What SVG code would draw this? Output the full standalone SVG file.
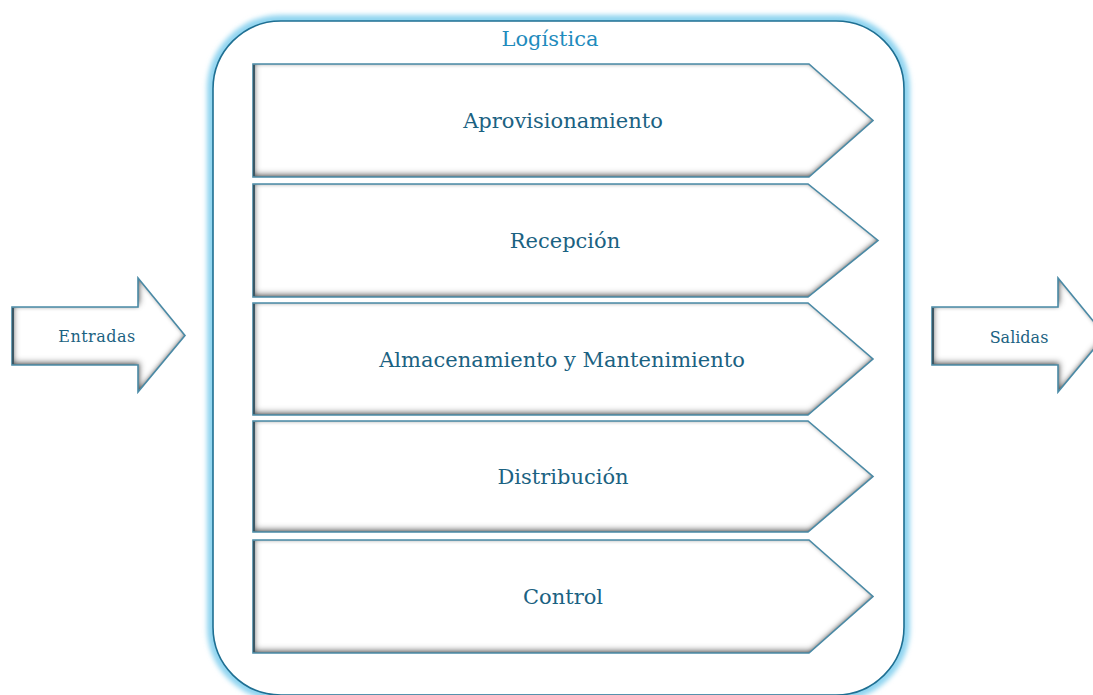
<svg xmlns="http://www.w3.org/2000/svg" width="1093" height="695" viewBox="0 0 1093 695">
  <defs>
    <style>
      .label { font-family: "DejaVu Serif", "Liberation Serif", serif; fill: #1b6282; text-anchor: middle; }
      .big { font-size: 21px; }
      .small { font-size: 16px; }
      .title { font-family: "DejaVu Serif", "Liberation Serif", serif; font-size: 21px; fill: #1f8bbd; text-anchor: middle; }
      .body { fill: #ffffff; filter: url(#inset); }
      .edge { fill: none; stroke: #4a8aa6; stroke-width: 1.6; stroke-linejoin: miter; }
      .leftedge { fill: none; stroke: #3b5866; stroke-width: 2; }
    </style>
    <!-- soft inner shading along the edges, heaviest at the bottom -->
    <filter id="inset" x="-8%" y="-15%" width="116%" height="130%">
      <feComponentTransfer in="SourceAlpha" result="inv">
        <feFuncA type="table" tableValues="1 0"/>
      </feComponentTransfer>
      <feGaussianBlur in="inv" stdDeviation="3" result="blur"/>
      <feOffset in="blur" dx="1.5" dy="-3" result="off"/>
      <feFlood flood-color="#4e4e4e" flood-opacity="1"/>
      <feComposite in2="off" operator="in" result="shade"/>
      <feComposite in="shade" in2="SourceAlpha" operator="in" result="inner"/>
      <feGaussianBlur in="inv" stdDeviation="2.2" result="blur2"/>
      <feFlood flood-color="#7a7a7a" flood-opacity="0.9"/>
      <feComposite in2="blur2" operator="in" result="rim"/>
      <feComposite in="rim" in2="SourceAlpha" operator="in" result="innerrim"/>
      <feMerge>
        <feMergeNode in="SourceGraphic"/>
        <feMergeNode in="innerrim"/>
        <feMergeNode in="inner"/>
      </feMerge>
    </filter>
    <!-- light blue halo round the container -->
    <filter id="glow" x="-5%" y="-5%" width="110%" height="110%">
      <feGaussianBlur stdDeviation="2.5"/>
    </filter>
  </defs>

  <!-- container -->
  <g id="logistica">
    <rect x="213" y="21" width="691" height="674" rx="68" ry="68" fill="none" stroke="#8fd4f0" stroke-width="12" filter="url(#glow)"/>
    <rect x="213" y="21" width="691" height="674" rx="68" ry="68" fill="#ffffff" stroke="#1f6f92" stroke-width="1.6"/>
    <text class="title" x="550" y="46">Logística</text>
  </g>

  <g id="aprovisionamiento">
    <path class="body" d="M253,64 H809 L873,120.5 L809,177 H253 Z"/>
    <path class="edge" d="M253,64 H809 L873,120.5 L809,177 H253 Z"/>
    <path class="leftedge" d="M254,65 V176"/>
    <text class="label big" x="563" y="128">Aprovisionamiento</text>
  </g>

  <g id="recepcion">
    <path class="body" d="M253,184 H808 L878,240.5 L808,297 H253 Z"/>
    <path class="edge" d="M253,184 H808 L878,240.5 L808,297 H253 Z"/>
    <path class="leftedge" d="M254,185 V296"/>
    <text class="label big" x="565" y="248">Recepción</text>
  </g>

  <g id="almacenamiento">
    <path class="body" d="M253,303 H808 L873,359 L808,415 H253 Z"/>
    <path class="edge" d="M253,303 H808 L873,359 L808,415 H253 Z"/>
    <path class="leftedge" d="M254,304 V414"/>
    <text class="label big" x="562" y="367">Almacenamiento y Mantenimiento</text>
  </g>

  <g id="distribucion">
    <path class="body" d="M253,421 H808 L873,476.5 L808,532 H253 Z"/>
    <path class="edge" d="M253,421 H808 L873,476.5 L808,532 H253 Z"/>
    <path class="leftedge" d="M254,422 V531"/>
    <text class="label big" x="563" y="484">Distribución</text>
  </g>

  <g id="control">
    <path class="body" d="M253,540 H809 L873,596.5 L809,653 H253 Z"/>
    <path class="edge" d="M253,540 H809 L873,596.5 L809,653 H253 Z"/>
    <path class="leftedge" d="M254,541 V652"/>
    <text class="label big" x="563" y="604">Control</text>
  </g>

  <g id="entradas">
    <path class="body" d="M12,307 H138 V278 L185,335.5 L138,392 V365 H12 Z"/>
    <path class="edge" d="M12,307 H138 V278 L185,335.5 L138,392 V365 H12 Z"/>
    <path class="leftedge" d="M13,308 V364"/>
    <text class="label small" x="97" y="342" letter-spacing="0.5">Entradas</text>
  </g>

  <g id="salidas">
    <path class="body" d="M932,307 H1058 V278 L1105,335.5 L1058,392 V365 H932 Z"/>
    <path class="edge" d="M932,307 H1058 V278 L1105,335.5 L1058,392 V365 H932 Z"/>
    <path class="leftedge" d="M933,308 V364"/>
    <text class="label small" x="1019" y="343">Salidas</text>
  </g>

  <!-- no connector lines between nodes -->
  <g id="connectors"/>
</svg>
